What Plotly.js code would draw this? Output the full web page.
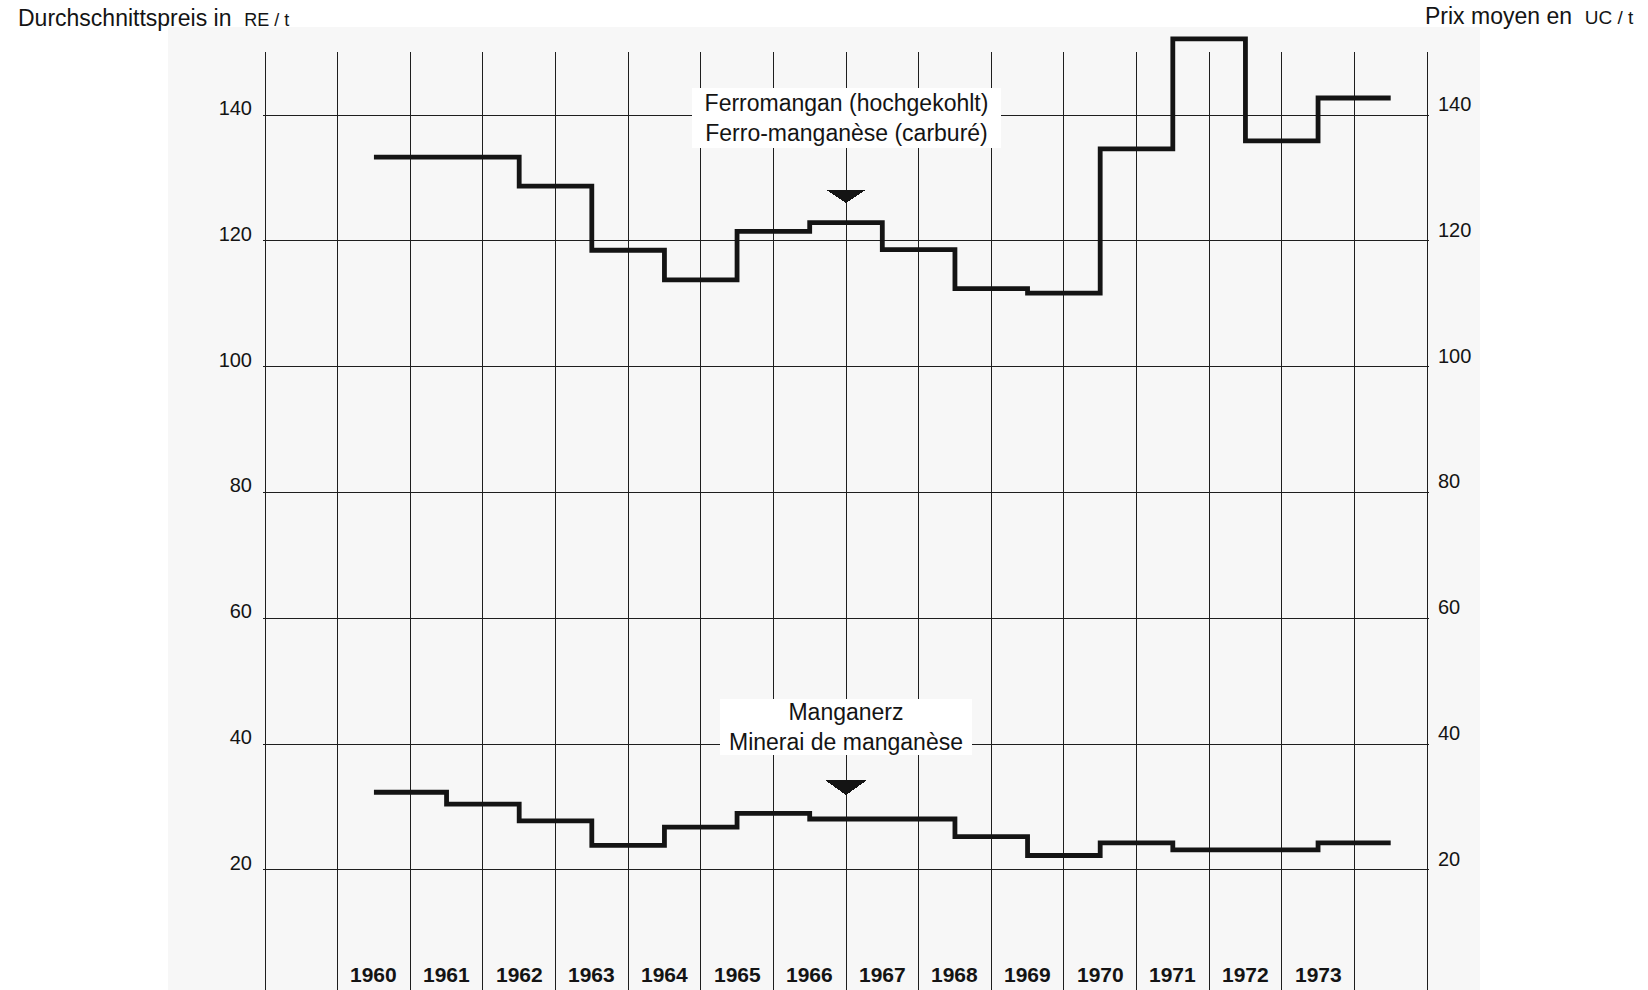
<!DOCTYPE html>
<html>
<head>
<meta charset="utf-8">
<script src="https://cdn.plot.ly/plotly-3.0.1.min.js"></script>
<style>
  html, body { margin: 0; padding: 0; background: #ffffff; }
  #chart { width: 1648px; height: 990px; }
  #chart .shapelayer path { shape-rendering: crispEdges; }
</style>
</head>
<body>
<div id="chart"></div>
<script>
// ---- data ----
const years = [1960, 1961, 1962, 1963, 1964, 1965, 1966, 1967, 1968, 1969, 1970, 1971, 1972, 1973];
const ferroPrice = [133.3, 133.3, 128.7, 118.5, 113.8, 121.5, 122.9, 118.6, 112.4, 111.7, 134.6, 152.1, 135.9, 142.7];
const manganPrice = [32.35, 30.45, 27.8, 23.9, 26.8, 29.0, 28.1, 28.1, 25.3, 22.3, 24.3, 23.2, 23.2, 24.3];
const yearLabels = ["1960", "1961", "1962", "1963", "1964", "1965", "1966", "1967", "1968", "1969", "1970", "1971", "1972", "1973"];
const ferroLabel = "Ferromangan (hochgekohlt)<br>Ferro-manganèse (carburé)";
const manganLabel = "Manganerz<br>Minerai de manganèse";
const leftTitle = "Durchschnittspreis in\u00A0 <span style=\"font-size:18px\">RE\u00A0/\u00A0t</span>";
const rightTitle = "Prix moyen en\u00A0 <span style=\"font-size:19px\">UC\u00A0/\u00A0t</span>";
const yTicks = [20, 40, 60, 80, 100, 120, 140];

// each yearly value holds until the following year
const stepX = years.concat([years[years.length - 1] + 1]);
const stepFerro = ferroPrice.concat([ferroPrice[ferroPrice.length - 1]]);
const stepMangan = manganPrice.concat([manganPrice[manganPrice.length - 1]]);

// frame: one empty column before 1960, columns centred on the years
const firstRule = years[0] - 1.5;
const lastRule = years[years.length - 1] + 1.5;
const pad = 2 / 72.625;                       // keep the edge rules inside the clip
const xRange = [firstRule - pad, lastRule + pad];
const yRange = [0.92, 153.51];
const gridTop = 150;
const ink = '#141414';
const rule = '#1e1e1e';
const bg = '#f7f7f7';
const txtFont = 'Liberation Sans, Arial, Helvetica, sans-serif';

const traces = [
  {
    x: stepX, y: stepFerro, type: 'scatter', mode: 'lines',
    line: { shape: 'hv', color: ink, width: 4.8 },
    hoverinfo: 'skip', showlegend: false,
    xaxis: 'x', yaxis: 'y'
  },
  {
    x: stepX, y: stepMangan, type: 'scatter', mode: 'lines',
    line: { shape: 'hv', color: ink, width: 4.8 },
    hoverinfo: 'skip', showlegend: false,
    xaxis: 'x', yaxis: 'y2'
  }
];

const annotations = [];
years.forEach((yr, i) => {
  annotations.push({
    x: yr, xref: 'x', y: 0, yref: 'paper',
    text: yearLabels[i], showarrow: false,
    xanchor: 'center', yanchor: 'middle', yshift: 16,
    font: { family: txtFont, size: 21, color: ink, weight: 'bold' }
  });
});
annotations.push({
  x: 1966.5, xref: 'x', y: 139.6, yref: 'y',
  text: ferroLabel, showarrow: false, xanchor: 'center', yanchor: 'middle',
  width: 309, height: 60, bgcolor: '#ffffff', borderpad: 0, borderwidth: 0,
  align: 'center',
  font: { family: txtFont, size: 23, color: ink }
});
annotations.push({
  x: 1966.5, xref: 'x', y: 42.8, yref: 'y',
  text: manganLabel, showarrow: false, xanchor: 'center', yanchor: 'middle',
  width: 252, height: 56, bgcolor: '#ffffff', borderpad: 0, borderwidth: 0,
  align: 'center',
  font: { family: txtFont, size: 23, color: ink }
});
annotations.push({
  x: (16 - 263) / 1166, xref: 'paper', y: 1, yref: 'paper',
  text: leftTitle, showarrow: false, xanchor: 'left', yanchor: 'middle', yshift: 12,
  font: { family: txtFont, size: 23, color: ink }
});
annotations.push({
  x: (1423 - 263) / 1166, xref: 'paper', y: 1, yref: 'paper',
  text: rightTitle, showarrow: false, xanchor: 'left', yanchor: 'middle', yshift: 14.5,
  font: { family: txtFont, size: 23, color: ink }
});

const shapes = [
  // scanned page tone behind the chart
  { type: 'rect', xref: 'paper', yref: 'paper', layer: 'below',
    x0: (168 - 263) / 1166, x1: (1480 - 263) / 1166, y0: 0, y1: (990 - 27) / 960,
    fillcolor: bg, line: { width: 0 } }
];
// vertical rules between the year columns, stopping at 150
for (let v = firstRule; v <= lastRule + 1e-9; v += 1) {
  shapes.push({ type: 'line', xref: 'x', yref: 'y', layer: 'below',
    x0: v, x1: v, y0: yRange[0], y1: gridTop,
    line: { color: rule, width: 1 } });
}
// pointer triangles
shapes.push({ type: 'path', xref: 'x', yref: 'y', layer: 'above',
  path: 'M1966.23,128.1 L1966.77,128.1 L1966.5,126.0 Z',
  fillcolor: ink, line: { width: 0 } });
shapes.push({ type: 'path', xref: 'x', yref: 'y', layer: 'above',
  path: 'M1966.21,34.3 L1966.79,34.3 L1966.5,31.9 Z',
  fillcolor: ink, line: { width: 0 } });

const layout = {
  width: 1648, height: 990,
  margin: { l: 263, r: 219, t: 30, b: 0, pad: 0 },
  paper_bgcolor: '#ffffff',
  plot_bgcolor: bg,
  showlegend: false,
  xaxis: {
    range: xRange, showgrid: false,
    showticklabels: false, ticks: '', zeroline: false, showline: false,
    fixedrange: true
  },
  yaxis: {
    range: yRange, tickvals: yTicks, ticktext: yTicks.map(String),
    showgrid: true, gridcolor: rule, gridwidth: 1,
    showline: false,
    ticks: '', ticklabelstandoff: 10, ticklabelshift: -7,
    zeroline: false, side: 'left',
    tickfont: { family: txtFont, size: 20, color: ink },
    fixedrange: true
  },
  yaxis2: {
    range: yRange, tickvals: yTicks, ticktext: yTicks.map(String),
    overlaying: 'y', side: 'right', showgrid: false,
    showline: false,
    ticks: '', ticklabelstandoff: 8, ticklabelshift: -11,
    zeroline: false,
    tickfont: { family: txtFont, size: 20, color: ink },
    fixedrange: true
  },
  annotations: annotations,
  shapes: shapes
};

Plotly.newPlot('chart', traces, layout, { displayModeBar: false, staticPlot: true });
</script>
</body>
</html>
